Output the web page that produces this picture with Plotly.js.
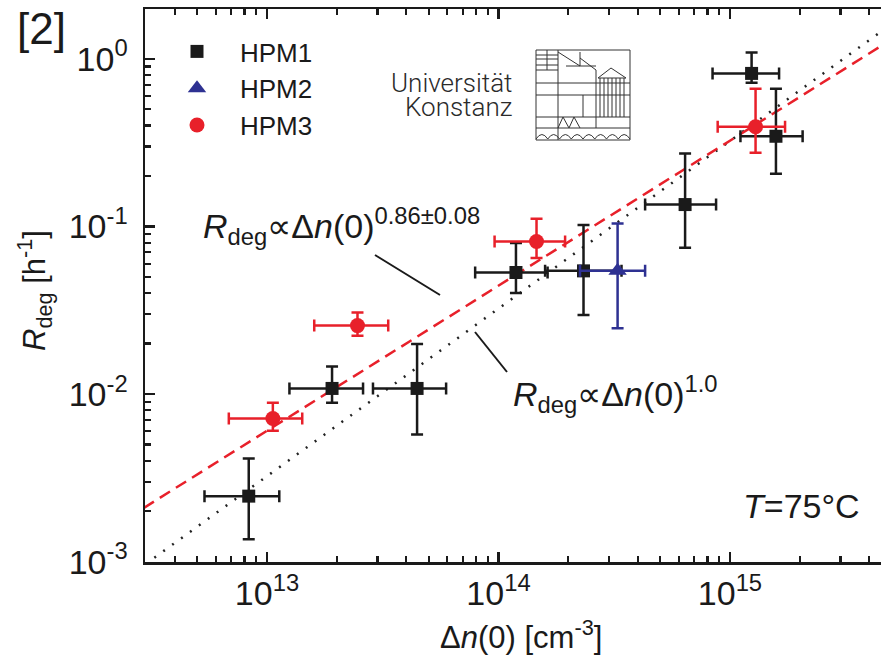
<!DOCTYPE html>
<html><head><meta charset="utf-8">
<script src="https://cdn.plot.ly/plotly-3.0.1.min.js"></script>
<style>html,body{margin:0;padding:0;overflow:hidden;background:#fff;width:881px;height:661px}#chart{width:900px;height:661px}</style>
</head><body><div id="chart"></div>
<script>
// ---- data ----
const hpm1X   = [8.34e12, 1.91e13, 4.45e13, 1.19e14, 2.33e14, 6.40e14, 1.24e15, 1.58e15];
const hpm1XLo = [5.37e12, 1.25e13, 2.87e13, 7.93e13, 1.59e14, 4.30e14, 8.41e14, 1.11e15];
const hpm1XHi = [1.13e13, 2.60e13, 5.94e13, 1.63e14, 3.40e14, 8.71e14, 1.63e15, 2.06e15];
const hpm1Y   = [2.46e-3, 1.08e-2, 1.08e-2, 5.31e-2, 5.43e-2, 0.135, 0.818, 0.345];
const hpm1YLo = [1.36e-3, 8.87e-3, 5.74e-3, 4.00e-2, 2.96e-2, 7.47e-2, 0.72, 0.206];
const hpm1YHi = [4.13e-3, 1.46e-2, 1.99e-2, 7.96e-2, 0.102, 0.272, 1.09, 0.662];

const hpm2X   = [3.27e14];
const hpm2XLo = [2.25e14];
const hpm2XHi = [4.30e14];
const hpm2Y   = [5.43e-2];
const hpm2YLo = [2.47e-2];
const hpm2YHi = [0.104];

const hpm3X   = [1.06e13, 2.46e13, 1.46e14, 1.29e15];
const hpm3XLo = [6.84e12, 1.60e13, 9.62e13, 8.85e14];
const hpm3XHi = [1.42e13, 3.34e13, 1.94e14, 1.73e15];
const hpm3Y   = [7.15e-3, 2.56e-2, 8.12e-2, 0.393];
const hpm3YLo = [6.04e-3, 2.23e-2, 6.47e-2, 0.275];
const hpm3YHi = [8.87e-3, 3.06e-2, 0.111, 0.662];

// fitted power laws (end points)
const fit086X = [2.5e12, 6e15];
const fit086Y = [1.82e-3, 1.53];
const fit10X  = [2.5e12, 6e15];
const fit10Y  = [8.09e-4, 1.94];

const xTickVals = [1e13, 1e14, 1e15];
const xTickText = ['10<sup>13</sup>', '10<sup>14</sup>', '10<sup>15</sup>'];
const yTickVals = [1e-3, 1e-2, 1e-1, 1];
const yTickText = ['10<sup>-3</sup>', '10<sup>-2</sup>', '10<sup>-1</sup>', '10<sup>0</sup>'];
const minorDigits = [2, 3, 4, 5, 6, 7, 8, 9];
const xDecades = [1e12, 1e13, 1e14, 1e15];
const yDecades = [1e-3, 1e-2, 1e-1, 1];

// ---- helpers ----
const FONT = 'Liberation Sans, Arial, sans-serif';
const INK = '#1a1a1a';
const L = 145, R = 892, T = 9, B = 562;
const fx = p => (p - L) / (R - L);
const fy = p => (B - p) / (B - T);
const minorVals = decs => [].concat(...decs.map(d => minorDigits.map(m => m * d)));

function errTrace(name, x, xlo, xhi, y, ylo, yhi, color, symbol, size) {
  return {
    type: 'scatter', mode: 'markers', name: name, x: x, y: y,
    marker: {symbol: symbol, size: size, color: color, line: {width: 0}},
    error_x: {type: 'data', symmetric: false,
      array: x.map((v, i) => xhi[i] - v), arrayminus: x.map((v, i) => v - xlo[i]),
      color: color, thickness: 2.5, width: 6},
    error_y: {type: 'data', symmetric: false,
      array: y.map((v, i) => yhi[i] - v), arrayminus: y.map((v, i) => v - ylo[i]),
      color: color, thickness: 2.5, width: 6}
  };
}

const data = [
  {type: 'scatter', mode: 'lines', x: fit10X, y: fit10Y, showlegend: false,
   line: {color: '#222', width: 2.5, dash: '2px,9px'}, hoverinfo: 'skip'},
  {type: 'scatter', mode: 'lines', x: fit086X, y: fit086Y, showlegend: false,
   line: {color: '#e8202a', width: 2.5, dash: '12px,7px'}, hoverinfo: 'skip'},
  errTrace('HPM1', hpm1X, hpm1XLo, hpm1XHi, hpm1Y, hpm1YLo, hpm1YHi, INK, 'square', 13),
  errTrace('HPM2', hpm2X, hpm2XLo, hpm2XHi, hpm2Y, hpm2YLo, hpm2YHi, '#2e3192', 'triangle-up', 16),
  errTrace('HPM3', hpm3X, hpm3XLo, hpm3XHi, hpm3Y, hpm3YLo, hpm3YHi, '#e8202a', 'circle', 15)
];

// ---- logo (decoration) ----
const logoSegs = [
  [536,50,630,50],[630,50,630,140],[630,140,536,140],[536,140,536,50],
  [558,50,558,140],[547,50,547,70],
  [536,55,558,55],[536,59,558,59],[536,65,558,65],[536,70,558,70],
  [536,83,630,83],[536,95,630,95],[536,117,630,117],[536,128,630,128],
  [583,95,583,117],[596,70,596,128],
  [558,52,580,66],[580,52,580,66],[580,58,596,70],[566,66,596,66],
  [600,78,600,117],[604,78,604,117],[608,78,608,117],[612,78,612,117],
  [616,78,616,117],[620,78,620,117],[624,78,624,117],
  [598,78,611,68],[611,68,626,78],[598,78,626,78],
  [558,128,563,117],[563,117,569,128],[569,128,574,117],[574,117,580,128]
];
const shapes = logoSegs.map(s => ({type: 'line', xref: 'paper', yref: 'paper',
  x0: fx(s[0]), y0: fy(s[1]), x1: fx(s[2]), y1: fy(s[3]),
  line: {color: '#333', width: 1}}));
let scal = '';
for (let k = 0; k < 8; k++) {
  const a = 536 + k * 11.75, b = a + 11.75, m = (a + b) / 2;
  scal += 'M' + fx(a) + ',' + fy(139) + ' Q' + fx(m) + ',' + fy(130) + ' ' + fx(b) + ',' + fy(139) + ' ';
}
shapes.push({type: 'path', xref: 'paper', yref: 'paper', path: scal, line: {color: '#333', width: 1}});
// annotation leader lines
shapes.push({type: 'line', xref: 'paper', yref: 'paper', x0: fx(375), y0: fy(255), x1: fx(440), y1: fy(295), line: {color: INK, width: 2}});
shapes.push({type: 'line', xref: 'paper', yref: 'paper', x0: fx(475), y0: fy(332), x1: fx(507), y1: fy(372), line: {color: INK, width: 2}});

const annotations = [
  {text: '[2]', xref: 'paper', yref: 'paper', x: fx(15), y: fy(28), xanchor: 'left', yanchor: 'middle', showarrow: false, font: {size: 44, color: INK, family: FONT}},
  {text: '<i>R</i><sub>deg</sub> [h<sup>-1</sup>]', xref: 'paper', yref: 'paper', x: fx(34), y: fy(291), textangle: -90, xanchor: 'center', yanchor: 'middle', showarrow: false, font: {size: 31, color: INK, family: FONT}},
  {text: 'Δ<i>n</i>(0) [cm<sup>-3</sup>]', xref: 'paper', yref: 'paper', x: fx(521), y: fy(635), xanchor: 'center', yanchor: 'middle', showarrow: false, font: {size: 31, color: INK, family: FONT}},
  {text: '<i>T</i>=75°C', xref: 'paper', yref: 'paper', x: fx(862), y: fy(506), xanchor: 'right', yanchor: 'middle', showarrow: false, font: {size: 34, color: INK, family: FONT}},
  {text: '<i>R</i><sub>deg</sub>∝Δ<i>n</i>(0)<sup>0.86±0.08</sup>', xref: 'paper', yref: 'paper', x: fx(201), y: fy(226), xanchor: 'left', yanchor: 'middle', showarrow: false, font: {size: 34, color: INK, family: FONT}},
  {text: '<i>R</i><sub>deg</sub>∝Δ<i>n</i>(0)<sup>1.0</sup>', xref: 'paper', yref: 'paper', x: fx(511), y: fy(394), xanchor: 'left', yanchor: 'middle', showarrow: false, font: {size: 34, color: INK, family: FONT}},
  {text: 'Universität', xref: 'paper', yref: 'paper', x: fx(514), y: fy(83), xanchor: 'right', yanchor: 'middle', showarrow: false, font: {size: 26, color: '#2a2a2a', family: 'Roboto, sans-serif', weight: 300}},
  {text: 'Konstanz', xref: 'paper', yref: 'paper', x: fx(514), y: fy(107), xanchor: 'right', yanchor: 'middle', showarrow: false, font: {size: 26, color: '#2a2a2a', family: 'Roboto, sans-serif', weight: 300}}
];

const axisCommon = {
  type: 'log', showgrid: false, zeroline: false, automargin: false,
  showline: true, linewidth: 2.5, linecolor: INK, mirror: 'ticks',
  ticks: 'inside', ticklen: 10, tickwidth: 2.5, tickcolor: INK,
  tickmode: 'array',
  tickfont: {size: 34, color: INK, family: FONT}
};
const minorCommon = {tickmode: 'array', ticks: 'inside', ticklen: 6, tickwidth: 2.2, tickcolor: INK, showgrid: false};

const layout = {
  width: 900, height: 661,
  margin: {l: L, r: 900 - R, t: T, b: 661 - B, pad: 0},
  paper_bgcolor: '#fff', plot_bgcolor: '#fff',
  font: {family: FONT, color: INK},
  showlegend: true,
  legend: {x: fx(154), y: fy(28), xanchor: 'left', yanchor: 'top', bgcolor: 'rgba(0,0,0,0)',
           borderwidth: 0, itemwidth: 76, font: {size: 26, color: INK, family: FONT}},
  xaxis: Object.assign({}, axisCommon, {range: [12.473, 15.70], tickvals: xTickVals, ticktext: xTickText,
    minor: Object.assign({tickvals: minorVals(xDecades)}, minorCommon)}),
  yaxis: Object.assign({}, axisCommon, {range: [-3.002, 0.297], tickvals: yTickVals, ticktext: yTickText, ticklabelstandoff: 8,
    minor: Object.assign({tickvals: minorVals(yDecades)}, minorCommon)}),
  shapes: shapes,
  annotations: annotations
};

Plotly.newPlot('chart', data, layout, {displayModeBar: false, staticPlot: true});
</script></body></html>
